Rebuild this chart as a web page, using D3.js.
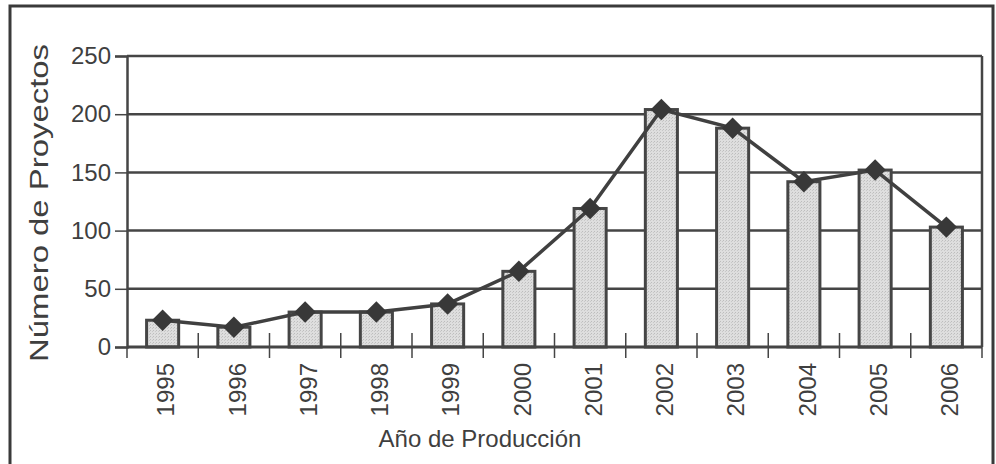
<!DOCTYPE html>
<html>
<head>
<meta charset="utf-8">
<script src="https://cdn.jsdelivr.net/npm/d3@7"></script>
<style>
  body { margin: 0; background: #fff; }
  text { font-family: "Liberation Sans", Arial, sans-serif; fill: #3f3f3f; }
</style>
</head>
<body>
<script>
var anios = ["1995", "1996", "1997", "1998", "1999", "2000", "2001", "2002", "2003", "2004", "2005", "2006"];
var proyectos = [23, 17, 30, 30, 37, 65, 119, 204, 188, 142, 152, 103];
var yTicks = [0, 50, 100, 150, 200, 250];

var chart = (function() {
    var w = 996, h = 464;
    var left = 127, right = 982, top = 56, bottom = 347;
    var ink = "#454545";

    var svg = d3.select("body")
                .append("svg")
                .attr("width", w)
                .attr("height", h);

    // stippled fill like the printed bars
    var pat = svg.append("defs").append("pattern")
                .attr("id", "dots")
                .attr("width", 3).attr("height", 3)
                .attr("patternUnits", "userSpaceOnUse");
    pat.append("rect").attr("width", 3).attr("height", 3).attr("fill", "#dedede");
    pat.append("rect").attr("width", 1).attr("height", 1).attr("fill", "#bdbdbd");
    pat.append("rect").attr("x", 2).attr("y", 1).attr("width", 1).attr("height", 1).attr("fill", "#c8c8c8");

    // outer frame
    svg.append("rect")
        .attr("x", 10).attr("y", 6)
        .attr("width", 983).attr("height", 480)
        .attr("fill", "none")
        .attr("stroke", "#3a3a3a")
        .attr("stroke-width", 3);

    var xScale = d3.scaleBand()
                    .domain(anios)
                    .range([left, right])
                    .paddingInner(0.55)
                    .paddingOuter(0.275);

    var yScale = d3.scaleLinear()
                    .domain([0, 250])
                    .range([bottom, top]);

    // gridlines
    svg.append("g").selectAll("line")
        .data(yTicks.slice(1))
        .enter()
        .append("line")
        .attr("x1", left).attr("x2", right)
        .attr("y1", d => yScale(d)).attr("y2", d => yScale(d))
        .attr("stroke", ink)
        .attr("stroke-width", 2.5);

    // right border of plot area
    svg.append("line")
        .attr("x1", right).attr("x2", right)
        .attr("y1", top).attr("y2", bottom)
        .attr("stroke", ink)
        .attr("stroke-width", 2.5);

    // x ticks at band boundaries (crossing the axis)
    var half = (xScale.step() - xScale.bandwidth()) / 2;
    var bounds = anios.map(d => xScale(d) - half).concat([right]);
    svg.append("g").selectAll("line")
        .data(bounds)
        .enter()
        .append("line")
        .attr("x1", d => d).attr("x2", d => d)
        .attr("y1", (d, i) => (i === 0 || i === bounds.length - 1) ? bottom : bottom - 14)
        .attr("y2", bottom + 11)
        .attr("stroke", ink)
        .attr("stroke-width", 1.5);

    svg.append("g").selectAll("rect")
        .data(proyectos)
        .enter()
        .append("rect")
        .attr("x", (d, i) => xScale(anios[i]))
        .attr("y", d => yScale(d))
        .attr("width", xScale.bandwidth())
        .attr("height", d => bottom - yScale(d))
        .attr("fill", "url(#dots)")
        .attr("stroke", ink)
        .attr("stroke-width", 3);

    // x axis line
    svg.append("line")
        .attr("x1", left).attr("x2", right)
        .attr("y1", bottom).attr("y2", bottom)
        .attr("stroke", ink)
        .attr("stroke-width", 3);

    var yAxis = d3.axisLeft()
                .scale(yScale)
                .tickValues(yTicks)
                .tickSize(12)
                .tickPadding(4);

    var gy = svg.append("g")
        .attr("transform", "translate(" + left + ",0)")
        .call(yAxis);
    gy.select(".domain").attr("stroke", ink).attr("stroke-width", 2.5);
    gy.selectAll(".tick line").attr("stroke", ink).attr("stroke-width", 1.5);
    gy.selectAll(".tick text")
        .attr("font-size", 24)
        .attr("fill", "#3f3f3f");

    // x tick labels, rotated
    svg.append("g").selectAll("text")
        .data(anios)
        .enter()
        .append("text")
        .attr("transform", d => "translate(" + (xScale(d) + xScale.bandwidth() / 2 + 3) + "," + 363 + ") rotate(-90)")
        .attr("text-anchor", "end")
        .attr("dy", "0.36em")
        .attr("font-size", 24)
        .text(d => d);

    var line = d3.line()
                .x((d, i) => xScale(anios[i]) + xScale.bandwidth() / 2)
                .y(d => yScale(d));

    svg.append("path")
        .datum(proyectos)
        .attr("d", line)
        .attr("fill", "none")
        .attr("stroke", "#404040")
        .attr("stroke-width", 3.5);

    svg.append("g").selectAll("path")
        .data(proyectos)
        .enter()
        .append("path")
        .attr("d", d3.symbol().type(d3.symbolSquare).size(230))
        .attr("transform", (d, i) => "translate(" + (xScale(anios[i]) + xScale.bandwidth() / 2) + "," + yScale(d) + ") rotate(45)")
        .attr("fill", "#383838");

    // axis titles
    svg.append("text")
        .attr("transform", "translate(48," + 203 + ") rotate(-90)")
        .attr("text-anchor", "middle")
        .attr("font-size", 25)
        .attr("textLength", 318)
        .attr("lengthAdjust", "spacingAndGlyphs")
        .text("Número de Proyectos");

    svg.append("text")
        .attr("x", 480)
        .attr("y", 447)
        .attr("text-anchor", "middle")
        .attr("font-size", 24)
        .text("Año de Producción");
})();
</script>
</body>
</html>
